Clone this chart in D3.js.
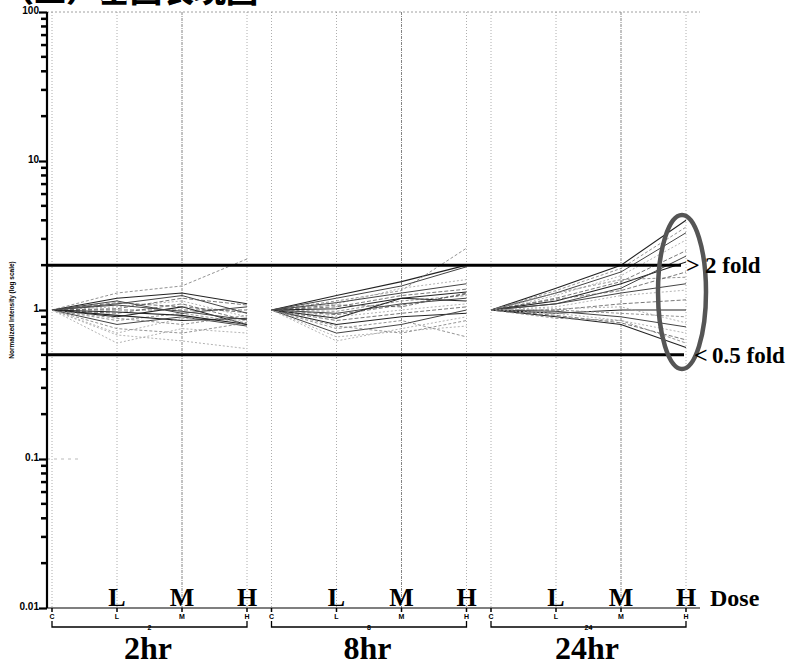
<!DOCTYPE html>
<html>
<head>
<meta charset="utf-8">
<script src="https://cdn.jsdelivr.net/npm/d3@7"></script>
<style>
  body { margin: 0; background: #fff; }
  svg { display: block; }
  .serif { font-family: "Liberation Serif", "DejaVu Serif", serif; font-weight: bold; }
  .tiny { font-family: "Liberation Sans", Arial, sans-serif; font-weight: bold; fill: #000; }
</style>
</head>
<body>
<div id="chart"></div>
<script>
// time points (hr), dose levels, and normalized intensity per gene (C, L, M, H)
const times = ["2", "8", "24"];
const timeLabels = ["2hr", "8hr", "24hr"];
const doses = ["C", "L", "M", "H"];
const yTicks = [0.01, 0.1, 1, 10, 100];
const yTickLabels = ["0.01", "0.1", "1", "10", "100"];

const genes2hr = [
  [1, 1.20, 1.30, 1.10], [1, 1.30, 1.45, 2.20], [1, 1.10, 1.25, 0.95],
  [1, 1.05, 1.15, 0.90], [1, 0.95, 1.10, 0.85], [1, 0.90, 1.05, 0.80],
  [1, 0.85, 0.95, 0.82], [1, 0.80, 0.90, 0.78], [1, 0.70, 0.88, 0.85],
  [1, 1.00, 1.00, 1.00], [1, 0.92, 0.85, 0.88], [1, 0.88, 0.80, 0.92],
  [1, 1.15, 0.95, 1.05], [1, 0.60, 0.75, 0.70], [1, 1.02, 1.20, 1.08],
  [1, 0.97, 0.92, 0.80], [1, 0.75, 0.70, 0.82], [1, 1.08, 0.98, 0.86],
  [1, 0.68, 0.62, 0.55], [1, 1.12, 1.05, 0.96]
];
const genes8hr = [
  [1, 1.25, 1.55, 2.00], [1, 1.15, 1.35, 2.60], [1, 1.20, 1.45, 1.95],
  [1, 1.10, 1.40, 1.60], [1, 1.05, 1.25, 1.38], [1, 1.02, 1.20, 1.32],
  [1, 0.98, 1.15, 1.25], [1, 0.95, 1.10, 1.20], [1, 0.90, 1.00, 1.10],
  [1, 0.85, 0.95, 1.05], [1, 0.80, 0.90, 0.95], [1, 0.75, 0.85, 0.66],
  [1, 0.70, 0.80, 1.00], [1, 0.62, 0.75, 0.90], [1, 1.08, 1.05, 1.30],
  [1, 0.88, 1.20, 1.15], [1, 0.78, 0.70, 0.85], [1, 1.12, 1.30, 1.50],
  [1, 0.66, 0.72, 0.78], [1, 0.93, 1.08, 1.28]
];
const genes24hr = [
  [1, 1.40, 2.00, 4.00], [1, 1.35, 1.90, 3.60], [1, 1.30, 1.80, 3.30],
  [1, 1.25, 1.70, 2.95], [1, 1.20, 1.55, 2.50], [1, 1.15, 1.50, 2.10],
  [1, 1.30, 1.60, 1.66], [1, 1.10, 1.30, 1.50], [1, 1.05, 1.25, 1.36],
  [1, 1.00, 1.10, 1.17], [1, 0.95, 1.00, 1.00], [1, 1.00, 0.95, 0.90],
  [1, 0.98, 0.90, 0.77], [1, 0.95, 0.85, 0.70], [1, 0.92, 0.82, 0.63],
  [1, 0.90, 0.80, 0.56], [1, 0.88, 0.85, 0.60], [1, 1.10, 1.40, 2.30],
  [1, 1.02, 1.05, 0.82], [1, 1.18, 1.35, 1.80]
];
const genesByTime = [genes2hr, genes8hr, genes24hr];
const foldLines = [2, 0.5];
const foldLabels = ["2 fold", "0.5 fold"];

const canvWidth = 795, canvHeight = 666;
const svg = d3.select("#chart").append("svg")
    .attr("width", canvWidth)
    .attr("height", canvHeight);

// scales
const yScale = d3.scaleLog().domain([0.01, 100]).range([608, 12]);
const xTime = d3.scalePoint().domain(times).range([52, 491]);
const xDose = d3.scalePoint().domain(doses).range([0, 195]);
const xPos = (t, d) => xTime(t) + xDose(d);
const axisX = 47, axisRight = 700;

// title at top, cut off in the original scan
svg.append("text")
    .attr("x", 2)
    .attr("y", 2)
    .style("font-family", "'Noto Sans CJK TC', sans-serif")
    .style("font-size", "32px")
    .style("font-weight", "900")
    .text("（二）基因表現圖");

// grid lines
const grid = svg.append("g").attr("id", "grid");
times.forEach(t => {
  doses.forEach((d, di) => {
    grid.append("line")
      .attr("x1", xPos(t, d)).attr("x2", xPos(t, d))
      .attr("y1", yScale(100)).attr("y2", yScale(0.01))
      .attr("stroke", di === 2 ? "#666" : "#999")
      .attr("stroke-width", 0.8)
      .attr("stroke-dasharray", di === 2 ? "3,1,1,1" : "1,2");
  });
});
grid.append("line")
    .attr("x1", axisX).attr("x2", axisRight)
    .attr("y1", yScale(100)).attr("y2", yScale(100))
    .attr("stroke", "#888")
    .attr("stroke-width", 0.8)
    .attr("stroke-dasharray", "2,2");
grid.append("line")
    .attr("x1", axisX).attr("x2", 80)
    .attr("y1", yScale(0.1)).attr("y2", yScale(0.1))
    .attr("stroke", "#aaa")
    .attr("stroke-width", 0.8)
    .attr("stroke-dasharray", "3,4");

// y axis: minor ticks between decades, then major ticks with labels
const minorTicks = [];
for (let e = -2; e < 2; e++) {
  for (let k = 2; k <= 9; k++) minorTicks.push(k * Math.pow(10, e));
}
const yMinor = svg.append("g").attr("id", "y-minor");
minorTicks.forEach(v => {
  yMinor.append("rect")
    .attr("x", axisX - 6)
    .attr("y", yScale(v) - 1.25)
    .attr("width", 6)
    .attr("height", 2.5)
    .attr("fill", "#000");
});

const yAxis = svg.append("g")
    .attr("transform", "translate(" + axisX + ",0)")
    .call(d3.axisLeft(yScale).tickValues(yTicks).tickSize(8)
      .tickFormat((d, i) => yTickLabels[i]));
yAxis.select(".domain").attr("stroke-width", 2.2).attr("d", "M0," + yScale(100) + "V" + yScale(0.01));
yAxis.selectAll("line").attr("stroke-width", 2.2);
yAxis.selectAll("text")
    .attr("class", "tiny")
    .attr("font-family", null)
    .attr("font-size", "10px")
    .style("font-size", "10px")
    .attr("dy", "0.1em")
    .attr("x", -8);

// y axis label
svg.append("text")
    .attr("class", "tiny")
    .style("font-size", "6.5px")
    .attr("transform", "translate(14," + yScale(1) + ") rotate(-90)")
    .style("text-anchor", "middle")
    .text("Normalized Intensity (log scale)");

// x axis baseline
svg.append("line")
    .attr("x1", axisX).attr("x2", axisRight)
    .attr("y1", yScale(0.01)).attr("y2", yScale(0.01))
    .attr("stroke", "#000").attr("stroke-width", 1.2);

// gene lines
const line = d3.line()
    .x(d => d.x)
    .y(d => yScale(d.v));
const lineStyles = [
  {stroke: "#222", width: 1.1, dash: null},
  {stroke: "#888", width: 0.9, dash: "3,2"},
  {stroke: "#444", width: 1.0, dash: null},
  {stroke: "#aaa", width: 0.9, dash: "2,2"},
  {stroke: "#555", width: 0.8, dash: "4,2"}
];
times.forEach((t, ti) => {
  const g = svg.append("g").attr("class", "time-group");
  genesByTime[ti].forEach((row, i) => {
    const pts = row.map((v, j) => ({x: xPos(t, doses[j]), v: v}));
    const s = lineStyles[i % lineStyles.length];
    g.append("path")
      .attr("d", line(pts))
      .attr("fill", "none")
      .attr("stroke", s.stroke)
      .attr("stroke-width", s.width)
      .attr("stroke-dasharray", s.dash);
  });
});

// fold threshold lines
foldLines.forEach((v, i) => {
  svg.append("line")
    .attr("x1", axisX).attr("x2", xPos("24", "H") - 5 + i * 3)
    .attr("y1", yScale(v)).attr("y2", yScale(v))
    .attr("stroke", "#000").attr("stroke-width", 3);
});

// ellipse around 24hr H
svg.append("ellipse")
    .attr("cx", xPos("24", "H") - 4)
    .attr("cy", 292)
    .attr("rx", 24)
    .attr("ry", 77)
    .attr("fill", "none")
    .attr("stroke", "#555")
    .attr("stroke-width", 4.5);

// fold annotations
svg.append("text").attr("class", "serif")
    .attr("x", 686).attr("y", yScale(2) + 8)
    .style("font-size", "24px")
    .text(">");
svg.append("text").attr("class", "serif")
    .attr("x", 694).attr("y", yScale(0.5) + 8)
    .style("font-size", "24px")
    .text("<");
foldLabels.forEach((lab, i) => {
  svg.append("text").attr("class", "serif")
    .attr("x", i === 0 ? 705 : 712)
    .attr("y", yScale(foldLines[i]) + 8)
    .style("font-size", "23px")
    .text(lab);
});

// x ticks, small dose labels and time brackets
times.forEach((t, ti) => {
  const g = svg.append("g");
  doses.forEach(d => {
    g.append("line")
      .attr("x1", xPos(t, d)).attr("x2", xPos(t, d))
      .attr("y1", 608).attr("y2", 612)
      .attr("stroke", "#000").attr("stroke-width", 1.5);
    g.append("text").attr("class", "tiny")
      .attr("x", xPos(t, d)).attr("y", 619)
      .style("text-anchor", "middle")
      .style("font-size", "7px")
      .text(d);
  });
  const x0 = xPos(t, "C"), x1 = xPos(t, "H");
  g.append("path")
    .attr("d", "M" + x0 + ",621V627H" + x1 + "V621")
    .attr("fill", "none")
    .attr("stroke", "#000").attr("stroke-width", 1.3);
  g.append("text").attr("class", "tiny")
    .attr("x", (x0 + x1) / 2).attr("y", 630)
    .style("text-anchor", "middle")
    .style("font-size", "7px")
    .text(t);

  // big dose letters
  doses.slice(1).forEach(d => {
    g.append("text").attr("class", "serif")
      .attr("x", xPos(t, d)).attr("y", 606)
      .style("text-anchor", "middle")
      .style("font-size", "26px")
      .text(d);
  });
  // big time labels
  g.append("text").attr("class", "serif")
    .attr("x", xTime(t) + 96).attr("y", 659)
    .style("text-anchor", "middle")
    .style("font-size", "32px")
    .text(timeLabels[ti]);
});

svg.append("text").attr("class", "serif")
    .attr("x", 710).attr("y", 606)
    .style("font-size", "24px")
    .text("Dose");
</script>
</body>
</html>
